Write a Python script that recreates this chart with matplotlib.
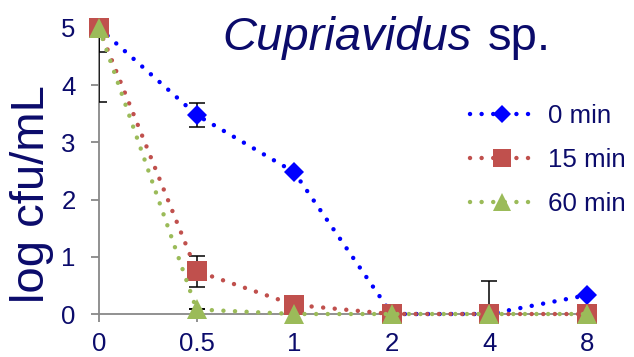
import matplotlib
matplotlib.use("Agg")
import matplotlib.pyplot as plt
from matplotlib.lines import Line2D
import numpy as np

plt.rcParams['font.family'] = ['Liberation Sans', 'DejaVu Sans']

# categories on x axis (equally spaced)
categories = ['0', '0.5', '1', '2', '4', '8']
series_names = ['0 min', '15 min', '60 min']

vals_0 = [5.0, 3.48, 2.48, 0.0, 0.0, 0.33]
vals_15 = [5.0, 0.75, 0.16, 0.0, 0.0, 0.0]
vals_60 = [5.0, 0.08, 0.0, 0.0, 0.0, 0.0]

err_0 = [1.3, 0.21, 0.0, 0.0, 0.58, 0.0]
err_15 = [0.42, 0.27, 0.0, 0.0, 0.0, 0.0]
err_60 = [0.0, 0.0, 0.0, 0.0, 0.0, 0.0]

colors = ['#0000FF', '#C0504D', '#9BBB59']
markers = ['D', 's', '^']
msizes = [10, 14.5, 14.5]
navy = '#0B0B6B'
dots = (0, (0.01, 2.6))

fig = plt.figure(figsize=(6.34, 3.57), dpi=100)
ax = fig.add_axes([0.156, 0.1204, 0.770, 0.8012])

xpos = np.arange(len(categories))
all_vals = [vals_0, vals_15, vals_60]
all_errs = [err_0, err_15, err_60]

for vals, errs in zip(all_vals, all_errs):
    ax.errorbar(xpos, vals, yerr=errs, fmt='none', ecolor='black',
                elinewidth=1.1, capsize=6, capthick=1.1, zorder=2.6)

handles = []
for k, (vals, c, m, ms, name) in enumerate(zip(all_vals, colors, markers, msizes, series_names)):
    ax.plot(xpos, vals, color=c, linewidth=3.2, linestyle=dots,
            dash_capstyle='round', marker=m, markersize=ms,
            markeredgewidth=0, clip_on=False, zorder=3 + k)
    handles.append(Line2D([], [], color=c, linewidth=3.2, linestyle=dots,
                          dash_capstyle='round', marker=m,
                          markersize=ms * 0.88, markeredgewidth=0,
                          label=name))

ax.set_xlim(0, 5)
ax.set_ylim(0, 5)
ax.set_xticks(xpos)
ax.set_xticklabels(categories)
ax.set_yticks(range(6))

for s in ['top', 'right']:
    ax.spines[s].set_visible(False)
for s in ['left', 'bottom']:
    ax.spines[s].set_color('#888888')
    ax.spines[s].set_linewidth(1.3)

ax.tick_params(axis='both', colors='#888888', labelcolor=navy,
               labelsize=18.5, length=5.8, width=1.3, direction='out')
ax.tick_params(axis='x', pad=7.5)
ax.tick_params(axis='y', pad=11)

ax.set_ylabel('log cfu/mL', fontsize=34, color=navy)
ax.yaxis.set_label_coords(-0.093, 0.42)

fig.text(222 / 634, 0.86, 'Cupriavidus', fontsize=34, style='italic',
         color=navy, ha='left', va='baseline')
fig.text(488 / 634, 0.86, 'sp.', fontsize=34, color=navy,
         ha='left', va='baseline')

leg = fig.legend(handles=handles, loc='upper left',
                 bbox_to_anchor=(470 / 634, 0.709), frameon=False,
                 fontsize=18.6, handlelength=2.44, labelspacing=0.78,
                 handletextpad=0.58, borderpad=0, borderaxespad=0)
for t in leg.get_texts():
    t.set_color(navy)

fig.savefig('out.png', dpi=100)
